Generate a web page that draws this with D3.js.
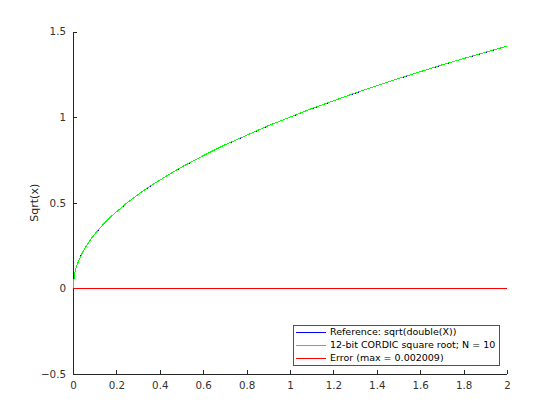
<!DOCTYPE html>
<html>
<head>
<meta charset="utf-8">
<title>CORDIC square root</title>
<script src="https://cdnjs.cloudflare.com/ajax/libs/d3/7.8.5/d3.min.js"></script>
<style>
    html, body { margin: 0; padding: 0; background: #fff; }
    svg { display: block; font-family: "DejaVu Sans", sans-serif; }
</style>
</head>
<body>
<svg id="chart" width="560" height="420"></svg>
<script>
// values
const xVals = [0, 0.0067, 0.013, 0.02, 0.027, 0.04, 0.053, 0.067, 0.08, 0.1, 0.12, 0.14, 0.16, 0.18, 0.2,
    0.25, 0.3, 0.35, 0.4, 0.45, 0.5, 0.6, 0.7, 0.8, 0.9, 1.0, 1.1, 1.2, 1.3, 1.4, 1.5, 1.6, 1.7, 1.8, 1.9, 2.0];
const refVals = [0, 0.082, 0.114, 0.141, 0.164, 0.2, 0.23, 0.259, 0.283, 0.316, 0.346, 0.374, 0.4, 0.424, 0.447,
    0.5, 0.548, 0.592, 0.632, 0.671, 0.707, 0.775, 0.837, 0.894, 0.949, 1.0, 1.049, 1.095, 1.14, 1.183, 1.225,
    1.265, 1.304, 1.342, 1.378, 1.414];
const cordicVals = [0, 0.082, 0.115, 0.141, 0.163, 0.2, 0.231, 0.258, 0.283, 0.317, 0.346, 0.375, 0.4, 0.425, 0.447,
    0.501, 0.548, 0.593, 0.632, 0.671, 0.708, 0.775, 0.838, 0.894, 0.95, 1.0, 1.05, 1.095, 1.141, 1.183, 1.226,
    1.265, 1.305, 1.342, 1.379, 1.414];
// error = cordic - reference, only small blips along zero
const errX = [0, 0.505, 0.507, 0.648, 0.65, 0.754, 0.756, 0.864, 0.866, 0.915, 0.917, 0.97, 0.972, 1.103, 1.105,
    1.251, 1.253, 1.329, 1.331, 2.0];
const errVals = [0, 0, 0.002, 0, 0.002, 0, 0.002, 0, 0.002, 0, 0.002, 0, 0.002, 0, 0.002, 0, 0.002, 0, 0.002, 0];
const xTicks = [0, 0.2, 0.4, 0.6, 0.8, 1, 1.2, 1.4, 1.6, 1.8, 2];
const yTicks = [-0.5, 0, 0.5, 1, 1.5];
const legendLabels = ["Reference: sqrt(double(X))", "12-bit CORDIC square root; N = 10", "Error (max = 0.002009)"];
const seriesColors = ["#0000ff", "#00ff00", "#ff0000"];

const axisColor = "#262626";
const plotL = 73, plotR = 507, plotT = 31.5, plotB = 374;

const svg = d3.select("#chart");

const x = d3.scaleLinear().domain([0, 2]).range([plotL, plotR]);
const y = d3.scaleLinear().domain([-0.5, 1.5]).range([plotB, plotT]);

// axes (box off, ticks inward)
const xAxis = svg.append("g")
    .attr("transform", `translate(0,${plotB})`)
    .call(d3.axisBottom(x).tickValues(xTicks).tickSize(-4).tickPadding(8).tickFormat(d3.format("~g")));
const yAxis = svg.append("g")
    .attr("transform", `translate(${plotL},0)`)
    .call(d3.axisLeft(y).tickValues(yTicks).tickSize(-4).tickPadding(7).tickFormat(d3.format("~g")));

[xAxis, yAxis].forEach(function (g) {
    g.select(".domain").attr("stroke", axisColor).attr("shape-rendering", "crispEdges")
        .attr("d", g === xAxis ? `M${plotL},0H${plotR}` : `M0,${plotB}V${plotT}`);
    g.selectAll(".tick line").attr("stroke", axisColor).attr("shape-rendering", "crispEdges");
    g.selectAll(".tick text").attr("fill", "#333").attr("font-size", 10.3)
        .attr("font-family", "DejaVu Sans, sans-serif");
});

svg.append("text")
    .attr("transform", `translate(38,${(plotT + plotB) / 2}) rotate(-90)`)
    .attr("text-anchor", "middle")
    .attr("font-size", 11)
    .attr("fill", axisColor)
    .text("Sqrt(x)");

const line = d3.line().x(d => x(d[0])).y(d => y(d[1]));

function drawSeries(xs, ys, color) {
    svg.append("path")
        .datum(xs.map((v, i) => [v, ys[i]]))
        .attr("d", line)
        .attr("fill", "none")
        .attr("stroke", color)
        .attr("stroke-width", 1)
        .attr("shape-rendering", "crispEdges");
}

drawSeries(xVals, refVals, seriesColors[0]);
drawSeries(xVals, cordicVals, seriesColors[1]);
drawSeries(errX, errVals, seriesColors[2]);

// legend, lower right
const lg = svg.append("g").attr("transform", "translate(293,325)");
lg.append("rect")
    .attr("width", 206).attr("height", 40)
    .attr("fill", "#fff").attr("stroke", axisColor).attr("stroke-width", 0.8)
    .attr("shape-rendering", "crispEdges");
legendLabels.forEach(function (lab, i) {
    const ry = 7 + i * 13;
    lg.append("line").attr("x1", 3).attr("x2", 33).attr("y1", ry).attr("y2", ry)
        .attr("stroke", seriesColors[i]).attr("stroke-width", 1)
        .attr("shape-rendering", "crispEdges");
    lg.append("text").attr("x", 37).attr("y", ry).attr("dy", "0.35em")
        .attr("font-size", 9.5).attr("fill", "#000").text(lab);
});
</script>
</body>
</html>
